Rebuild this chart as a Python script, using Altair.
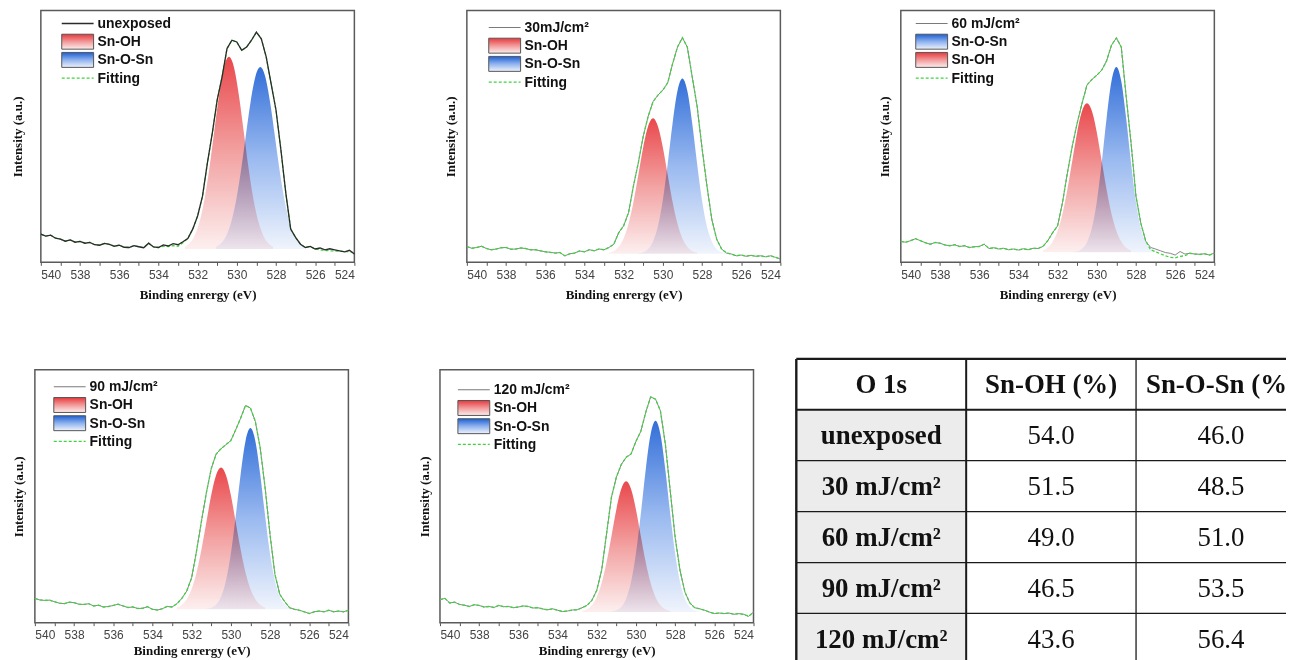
import altair as alt
import pandas as pd

# ---------------- data ----------------
ENERGY = [540.0, 539.75, 539.5, 539.25, 539.0, 538.75, 538.5, 538.25,
          538.0, 537.75, 537.5, 537.25, 537.0, 536.75, 536.5, 536.25,
          536.0, 535.75, 535.5, 535.25, 535.0, 534.75, 534.5, 534.25,
          534.0, 533.75, 533.5, 533.25, 533.0, 532.75, 532.5, 532.25,
          532.0, 531.75, 531.5, 531.25, 531.0, 530.75, 530.5, 530.25,
          530.0, 529.75, 529.5, 529.25, 529.0, 528.75, 528.5, 528.25,
          528.0, 527.75, 527.5, 527.25, 527.0, 526.75, 526.5, 526.25,
          526.0, 525.75, 525.5, 525.25, 525.0, 524.75, 524.5, 524.25,
          524.0]

UNEXPOSED = [11.2, 10.4, 10.8, 9.6, 9.2, 8.4, 8.9, 8.0,
             8.3, 7.6, 7.9, 7.0, 6.8, 7.5, 7.1, 6.4,
             6.8, 6.0, 5.9, 6.6, 6.2, 5.8, 7.6, 6.1,
             5.9, 6.9, 6.5, 7.4, 7.0, 8.2, 9.5, 13.2,
             18.4, 26.3, 39.5, 51.3, 64.5, 73.7, 84.9, 88.2,
             87.5, 84.2, 85.5, 88.2, 91.4, 88.8, 81.6, 71.0,
             60.5, 44.7, 27.6, 13.2, 9.9, 7.2, 5.9, 6.3,
             5.3, 5.7, 5.0, 5.4, 5.0, 4.6, 4.2, 4.8,
             3.3]
UNEXPOSED_FIT = [11.2, 10.4, 10.8, 9.6, 9.2, 8.4, 8.9, 8.0,
                 8.3, 7.6, 7.9, 7.0, 6.8, 7.5, 7.1, 6.4,
                 6.8, 6.0, 5.9, 6.6, 6.2, 5.8, 7.6, 6.1,
                 5.9, 6.4, 6.3, 6.6, 6.4, 7.8, 9.5, 13.2,
                 18.4, 26.3, 39.5, 51.3, 64.5, 73.7, 84.9, 88.2,
                 87.5, 84.2, 85.5, 88.2, 91.4, 88.8, 81.6, 71.0,
                 60.5, 44.7, 27.6, 13.2, 9.9, 7.2, 5.9, 6.3,
                 5.3, 5.0, 4.7, 4.6, 4.5, 4.4, 4.3, 4.2,
                 3.8]
MJ30 = [6.3, 5.6, 5.9, 6.4, 5.5, 5.0, 5.3, 5.8,
        5.9, 5.2, 5.3, 5.7, 5.5, 5.0, 5.0, 4.6,
        4.2, 4.0, 3.7, 3.9, 2.6, 3.4, 3.7, 4.5,
        4.2, 5.0, 4.6, 5.3, 5.0, 5.9, 7.2, 11.8,
        14.5, 19.7, 30.3, 39.5, 50.0, 57.9, 63.8, 66.4,
        68.4, 71.3, 78.9, 85.5, 89.2, 85.5, 73.7, 62.0,
        45.5, 30.5, 17.1, 9.2, 5.3, 3.7, 3.3, 2.6,
        2.9, 2.4, 2.8, 2.4, 2.6, 2.2, 2.6, 2.0,
        1.3]
MJ60 = [8.3, 8.0, 8.6, 9.4, 8.6, 7.8, 7.2, 7.9,
        7.6, 6.9, 6.6, 7.0, 6.3, 6.6, 5.9, 6.2,
        6.3, 7.2, 5.5, 5.8, 5.3, 5.6, 5.0, 5.3,
        4.9, 5.4, 5.0, 5.6, 5.5, 6.3, 8.6, 11.8,
        14.5, 23.7, 35.5, 46.1, 55.3, 63.2, 70.4, 72.6,
        74.3, 76.3, 80.0, 86.2, 89.1, 85.5, 65.8, 47.4,
        26.3, 15.5, 8.4, 5.9, 5.3, 4.6, 3.9, 3.6,
        2.9, 4.3, 3.3, 3.6, 3.3, 3.2, 3.4, 2.9,
        3.7]
MJ60_FIT = [8.3, 8.0, 8.6, 9.4, 8.6, 7.8, 7.2, 7.9,
            7.6, 6.9, 6.6, 7.0, 6.3, 6.6, 5.9, 6.2,
            6.3, 7.2, 5.5, 5.8, 5.3, 5.6, 5.0, 5.3,
            4.9, 5.4, 5.0, 5.6, 5.5, 6.3, 8.6, 11.8,
            14.5, 23.7, 35.5, 46.1, 55.3, 63.2, 70.4, 72.6,
            74.3, 76.3, 80.0, 86.2, 89.1, 85.5, 65.8, 47.4,
            26.3, 15.5, 8.4, 5.0, 4.2, 3.4, 2.6, 2.0,
            1.8, 2.4, 2.6, 3.6, 3.3, 3.2, 3.4, 2.9,
            3.7]
MJ90 = [9.6, 9.0, 8.8, 8.9, 8.3, 7.7, 7.5, 8.1,
        7.9, 7.3, 7.2, 7.5, 6.6, 6.9, 6.2, 6.4,
        6.8, 7.3, 6.6, 6.0, 6.2, 5.6, 5.7, 6.3,
        5.3, 5.0, 5.5, 6.4, 6.2, 7.5, 9.6, 12.5,
        17.8, 28.3, 40.1, 51.3, 60.9, 66.7, 68.8, 70.4,
        72.0, 76.3, 80.9, 85.9, 84.9, 79.6, 69.1, 53.3,
        34.9, 19.1, 11.2, 8.3, 5.9, 5.3, 4.9, 4.3,
        3.6, 4.3, 4.6, 4.3, 4.9, 4.3, 4.6, 4.3,
        4.9]
MJ120 = [9.1, 9.6, 7.8, 8.1, 7.2, 6.9, 6.4, 7.1,
         6.8, 6.2, 6.4, 6.0, 6.8, 6.3, 6.4, 5.9,
         6.2, 6.6, 6.4, 5.8, 5.9, 5.4, 5.1, 5.5,
         4.9, 4.4, 4.6, 5.0, 5.1, 5.9, 6.8, 8.8,
         12.8, 20.7, 35.1, 49.6, 57.5, 62.5, 65.4, 66.7,
         71.7, 75.7, 83.2, 89.3, 88.4, 83.8, 70.7, 52.2,
         33.8, 20.7, 12.1, 7.8, 5.9, 5.5, 4.9, 4.2,
         3.6, 3.8, 3.6, 3.8, 3.3, 3.6, 3.3, 2.5,
         4.2]

# fitted components (energy, intensity)
OH_EV_UNEXP = [532.65, 532.4, 532.15, 531.9, 531.65, 531.4, 531.15, 530.9, 530.65, 530.4,
               530.15, 529.9, 529.65, 529.4, 529.15, 528.9, 528.65, 528.4, 528.15]
OSN_EV_UNEXP = [531.05, 530.8, 530.55, 530.3, 530.05, 529.8, 529.55, 529.3, 529.05, 528.8,
                528.55, 528.3, 528.05, 527.8, 527.55, 527.3, 527.05, 526.8, 526.55]
OH_EV = [532.75, 532.5, 532.25, 532.0, 531.75, 531.5, 531.25, 531.0, 530.75, 530.5,
         530.25, 530.0, 529.75, 529.5, 529.25, 529.0, 528.75, 528.5, 528.25]
OSN_EV = [531.25, 531.0, 530.75, 530.5, 530.25, 530.0, 529.75, 529.5, 529.25, 529.0,
          528.75, 528.5, 528.25, 528.0, 527.75, 527.5, 527.25, 527.0, 526.75]

OH_UNEXP = [6.3, 7.7, 10.7, 16.2, 25.0, 37.4, 52.1, 66.7, 77.6, 81.6,
            77.6, 66.7, 52.1, 37.4, 25.0, 16.2, 10.7, 7.7, 6.3]
OSN_UNEXP = [6.2, 7.6, 10.4, 15.6, 24.0, 35.7, 49.7, 63.5, 73.8, 77.6,
             73.8, 63.5, 49.7, 35.7, 24.0, 15.6, 10.4, 7.6, 6.2]
OH_30 = [3.8, 4.5, 6.2, 9.5, 15.3, 23.9, 34.7, 45.7, 54.0, 57.2,
         54.0, 45.7, 34.7, 23.9, 15.3, 9.5, 6.2, 4.5, 3.8]
OSN_30 = [3.6, 4.0, 5.3, 8.3, 14.3, 24.7, 39.2, 55.2, 68.1, 73.0,
          68.1, 55.2, 39.2, 24.7, 14.3, 8.3, 5.3, 4.0, 3.6]
OH_60 = [4.7, 5.9, 8.2, 12.5, 19.3, 28.9, 40.3, 51.7, 60.1, 63.2,
         60.1, 51.7, 40.3, 28.9, 19.3, 12.5, 8.2, 5.9, 4.7]
OSN_60 = [4.1, 4.4, 5.4, 8.0, 13.6, 24.0, 39.4, 57.1, 71.9, 77.6,
          71.9, 57.1, 39.4, 24.0, 13.6, 8.0, 5.4, 4.4, 4.1]
OH_90 = [6.0, 7.1, 9.3, 13.3, 19.8, 28.9, 39.7, 50.5, 58.4, 61.4,
         58.4, 50.5, 39.7, 28.9, 19.8, 13.3, 9.3, 7.1, 6.0]
OSN_90 = [5.5, 5.9, 7.2, 10.3, 16.6, 27.2, 42.2, 58.6, 71.9, 77.0,
          71.9, 58.6, 42.2, 27.2, 16.6, 10.3, 7.2, 5.9, 5.5]
OH_120 = [4.6, 5.3, 6.9, 10.1, 15.7, 23.9, 34.2, 44.8, 52.9, 55.9,
          52.9, 44.8, 34.2, 23.9, 15.7, 10.1, 6.9, 5.3, 4.6]
OSN_120 = [4.4, 4.9, 6.2, 9.5, 16.1, 27.4, 43.1, 60.5, 74.5, 79.9,
           74.5, 60.5, 43.1, 27.4, 16.1, 9.5, 6.2, 4.9, 4.4]

BASELINES = [5.3, 3.4, 4.0, 5.3, 4.2]
SAMPLE_LABELS = ["unexposed", "30mJ/cm²", "60 mJ/cm²", "90 mJ/cm²", "120 mJ/cm²"]
TICK_VALUES = [540, 539, 538, 537, 536, 535, 534, 533, 532, 531, 530, 529, 528,
               527, 526, 525, 524]

TABLE_HEAD = ["O 1s", "Sn-OH (%)", "Sn-O-Sn (%)"]
TABLE_ROWS = ["unexposed", "30 mJ/cm²", "60 mJ/cm²", "90 mJ/cm²", "120 mJ/cm²"]
SN_OH_PCT = [54.0, 51.5, 49.0, 46.5, 43.6]
SN_O_SN_PCT = [46.0, 48.5, 51.0, 53.5, 56.4]

DATA = [UNEXPOSED, MJ30, MJ60, MJ90, MJ120]
FITS = [UNEXPOSED_FIT, MJ30, MJ60_FIT, MJ90, MJ120]
OH_EVS = [OH_EV_UNEXP, OH_EV, OH_EV, OH_EV, OH_EV]
OSN_EVS = [OSN_EV_UNEXP, OSN_EV, OSN_EV, OSN_EV, OSN_EV]
OHS = [OH_UNEXP, OH_30, OH_60, OH_90, OH_120]
OSNS = [OSN_UNEXP, OSN_30, OSN_60, OSN_90, OSN_120]

# ---------------- styling ----------------
RED_GRAD = alt.LinearGradient(
    gradient="linear", x1=0, y1=0, x2=0, y2=1,
    stops=[alt.GradientStop(offset=0, color="#e8383c"),
           alt.GradientStop(offset=0.5, color="#f29a9a"),
           alt.GradientStop(offset=1, color="#fdeeee")])
BLUE_GRAD = alt.LinearGradient(
    gradient="linear", x1=0, y1=0, x2=0, y2=1,
    stops=[alt.GradientStop(offset=0, color="#1c5fd4"),
           alt.GradientStop(offset=0.5, color="#8fb2ee"),
           alt.GradientStop(offset=1, color="#eef3fc")])
FIT_COLOR = "#3fd33f"
SANS = "Liberation Sans"
SERIF = "Liberation Serif"

# layout: left/right/top/bottom extents (px) around each plot area
LAYOUT = [
    dict(L=31, R=14, T=2, B=94, H=253, ytp=16, xtp=8.5, a=21, y0=13),
    dict(L=97, R=14, T=2, B=94, H=253, ytp=9, xtp=8.5, a=22, y0=17),
    dict(L=105, R=14, T=2, B=94, H=253, ytp=9, xtp=8.5, a=15, y0=13),
    dict(L=25, R=14, T=12, B=0, H=254, ytp=9, xtp=4, a=19, y0=17),
    dict(L=76, R=14, T=12, B=0, H=254, ytp=9, xtp=4, a=18, y0=20),
]
ORDERS = [["data", "oh", "osn", "fit"], ["data", "oh", "osn", "fit"],
          ["data", "osn", "oh", "fit"], ["data", "oh", "osn", "fit"],
          ["data", "oh", "osn", "fit"]]
LEGEND_NAMES = {"oh": "Sn-OH", "osn": "Sn-O-Sn", "fit": "Fitting"}

ONE = pd.DataFrame({"k": [0]})
W = 315


def panel(i):
    lay = LAYOUT[i]
    H = lay["H"]
    data_color = "#2b2b2b" if i == 0 else "#7a7a7a"
    data_width = 1.3 if i == 0 else 0.9
    xenc = alt.X("E:Q", title="Binding enrergy (eV)",
                 scale=alt.Scale(domain=[540, 524], nice=False, zero=False),
                 axis=alt.Axis(values=TICK_VALUES,
                               labelExpr="datum.value % 2 === 0 ? datum.label : ''",
                               tickSize=3, labelPadding=4, domain=False, grid=False,
                               titlePadding=lay["xtp"]))

    def yenc(field):
        return alt.Y(f"{field}:Q", title="Intensity (a.u.)",
                     scale=alt.Scale(domain=[0, 100], nice=False, zero=False),
                     axis=alt.Axis(labels=False, ticks=False, domain=False, grid=False,
                                   titlePadding=lay["ytp"]))

    bounds = alt.Chart(ONE).mark_rect(opacity=0).encode(
        x=alt.value(-lay["L"]), x2=alt.value(W + lay["R"]),
        y=alt.value(-lay["T"]), y2=alt.value(H + lay["B"]))

    spec = pd.DataFrame({"E": ENERGY, "I": DATA[i], "F": FITS[i]})
    osn = alt.Chart(pd.DataFrame({"E": OSN_EVS[i], "I": OSNS[i]})).mark_area(
        fill=BLUE_GRAD, opacity=0.9, interpolate="monotone").encode(
        x=xenc, y=yenc("I"), y2=alt.datum(BASELINES[i]))
    oh = alt.Chart(pd.DataFrame({"E": OH_EVS[i], "I": OHS[i]})).mark_area(
        fill=RED_GRAD, opacity=0.92, blend="multiply", interpolate="monotone").encode(
        x=xenc, y=yenc("I"), y2=alt.datum(BASELINES[i]))
    line = alt.Chart(spec).mark_line(color=data_color, strokeWidth=data_width).encode(
        x=xenc, y=yenc("I"))
    fit = alt.Chart(spec).mark_line(color=FIT_COLOR, strokeWidth=1.3,
                                    strokeDash=[3, 2]).encode(x=xenc, y=yenc("F"))
    layers = [bounds, osn, oh]
    layers += [fit, line] if i == 0 else [line, fit]

    a, y0, step = lay["a"], lay["y0"], 18.3
    for k, key in enumerate(ORDERS[i]):
        yc = y0 + k * step
        if key == "data":
            layers.append(alt.Chart(ONE).mark_rule(color=data_color, strokeWidth=data_width + 0.2).encode(
                x=alt.value(a), x2=alt.value(a + 32), y=alt.value(yc)))
            label = SAMPLE_LABELS[i]
        elif key == "fit":
            layers.append(alt.Chart(ONE).mark_rule(color=FIT_COLOR, strokeWidth=1.3,
                                                   strokeDash=[3, 2]).encode(
                x=alt.value(a), x2=alt.value(a + 32), y=alt.value(yc)))
            label = LEGEND_NAMES[key]
        else:
            grad = RED_GRAD if key == "oh" else BLUE_GRAD
            layers.append(alt.Chart(ONE).mark_rect(fill=grad, stroke="#555555", strokeWidth=1).encode(
                x=alt.value(a), x2=alt.value(a + 32),
                y=alt.value(yc - 7.5), y2=alt.value(yc + 7.5)))
            label = LEGEND_NAMES[key]
        layers.append(alt.Chart(ONE).mark_text(
            align="left", baseline="middle", font=SANS, fontWeight="bold",
            fontSize=14, color="#111111").encode(
            x=alt.value(a + 36), y=alt.value(yc + 0.5), text=alt.value(label)))

    return alt.layer(*layers).properties(
        width=W, height=H,
        view=alt.ViewBackground(stroke="#5a5a5a", strokeWidth=1.5))


def spacer():
    return alt.Chart(ONE).mark_rect(opacity=0).encode(
        x=alt.value(0), x2=alt.value(1), y=alt.value(0), y2=alt.value(1)
    ).properties(width=1, height=1)


# ---------------- table ----------------
COL_W, ROW_H = 170.67, 51.15
TW, TH = 492, 296                 # visible part of the table (it runs off the page)
X_MAX = TW / COL_W
ROW_SHIFT = 11 / ROW_H            # header sits a little above the neighbouring panels
Y_MAX = ROW_SHIFT + TH / ROW_H

cells = []
for r in range(6):
    for c in range(3):
        if r == 0:
            text, kind = TABLE_HEAD[c], "bold"
        else:
            vals = [TABLE_ROWS[r - 1], f"{SN_OH_PCT[r - 1]:.1f}", f"{SN_O_SN_PCT[r - 1]:.1f}"]
            text, kind = vals[c], ("bold" if c == 0 else "num")
        fill = "#ececec" if (r > 0 and c == 0) else "#ffffff"
        cells.append(dict(c0=c, c1=min(c + 1, X_MAX), r0=r, r1=min(r + 1, Y_MAX),
                          cx=c + 0.5, cy=r + 0.5, text=text, kind=kind, fill=fill))
cells = pd.DataFrame(cells)
hlines = pd.DataFrame({"r": [0, 1, 2, 3, 4, 5], "x0": [0] * 6, "x1": [X_MAX] * 6,
                       "w": [2.2, 2.0, 1.3, 1.3, 1.3, 1.3]})
vlines = pd.DataFrame({"c": [0, 1, 2], "y0": [0, 0, 0], "y1": [Y_MAX] * 3,
                       "w": [2.4, 2.0, 1.3]})

tx = alt.Scale(domain=[0, X_MAX], nice=False, zero=False)
ty = alt.Scale(domain=[ROW_SHIFT, Y_MAX], nice=False, zero=False, reverse=True)

t_bounds = alt.Chart(ONE).mark_rect(opacity=0).encode(
    x=alt.value(-28), x2=alt.value(0), y=alt.value(0), y2=alt.value(1))
t_cells = alt.Chart(cells).mark_rect(strokeWidth=0).encode(
    x=alt.X("c0:Q", scale=tx, axis=None), x2="c1:Q",
    y=alt.Y("r0:Q", scale=ty, axis=None), y2="r1:Q",
    fill=alt.Fill("fill:N", scale=None))
t_h = alt.Chart(hlines).mark_rule(color="#1a1a1a").encode(
    x=alt.X("x0:Q", scale=tx, axis=None), x2="x1:Q",
    y=alt.Y("r:Q", scale=ty, axis=None),
    strokeWidth=alt.StrokeWidth("w:Q", scale=None))
t_v = alt.Chart(vlines).mark_rule(color="#1a1a1a").encode(
    x=alt.X("c:Q", scale=tx, axis=None),
    y=alt.Y("y0:Q", scale=ty, axis=None), y2="y1:Q",
    strokeWidth=alt.StrokeWidth("w:Q", scale=None))
t_bold = alt.Chart(cells).transform_filter(alt.datum.kind == "bold").mark_text(
    clip=True, font=SERIF, fontWeight="bold", fontSize=27, color="#111111",
    baseline="middle", dy=1).encode(
    x=alt.X("cx:Q", scale=tx, axis=None), y=alt.Y("cy:Q", scale=ty, axis=None),
    text="text:N")
t_num = alt.Chart(cells).transform_filter(alt.datum.kind == "num").mark_text(
    clip=True, font=SERIF, fontSize=27, color="#111111", baseline="middle", dy=1).encode(
    x=alt.X("cx:Q", scale=tx, axis=None), y=alt.Y("cy:Q", scale=ty, axis=None),
    text="text:N")
table = alt.layer(t_bounds, t_cells, t_h, t_v, t_bold, t_num).properties(width=TW, height=TH)

row1 = alt.hconcat(spacer(), panel(0), panel(1), panel(2), spacing=0)
row2 = alt.hconcat(spacer(), panel(3), panel(4), table, spacing=0)

chart = alt.vconcat(row1, row2, spacing=0).properties(
    padding={"left": 0, "top": -2, "right": 0, "bottom": 0}, background="white"
).configure_view(stroke=None).configure_axis(
    labelFont=SANS, labelFontSize=12, labelColor="#444444",
    titleFont=SERIF, titleFontWeight="bold", titleFontSize=13, titleColor="#111111",
    tickColor="#555555", tickWidth=1
)

chart.save("out.html", embed_options={"renderer": "svg", "actions": False})
